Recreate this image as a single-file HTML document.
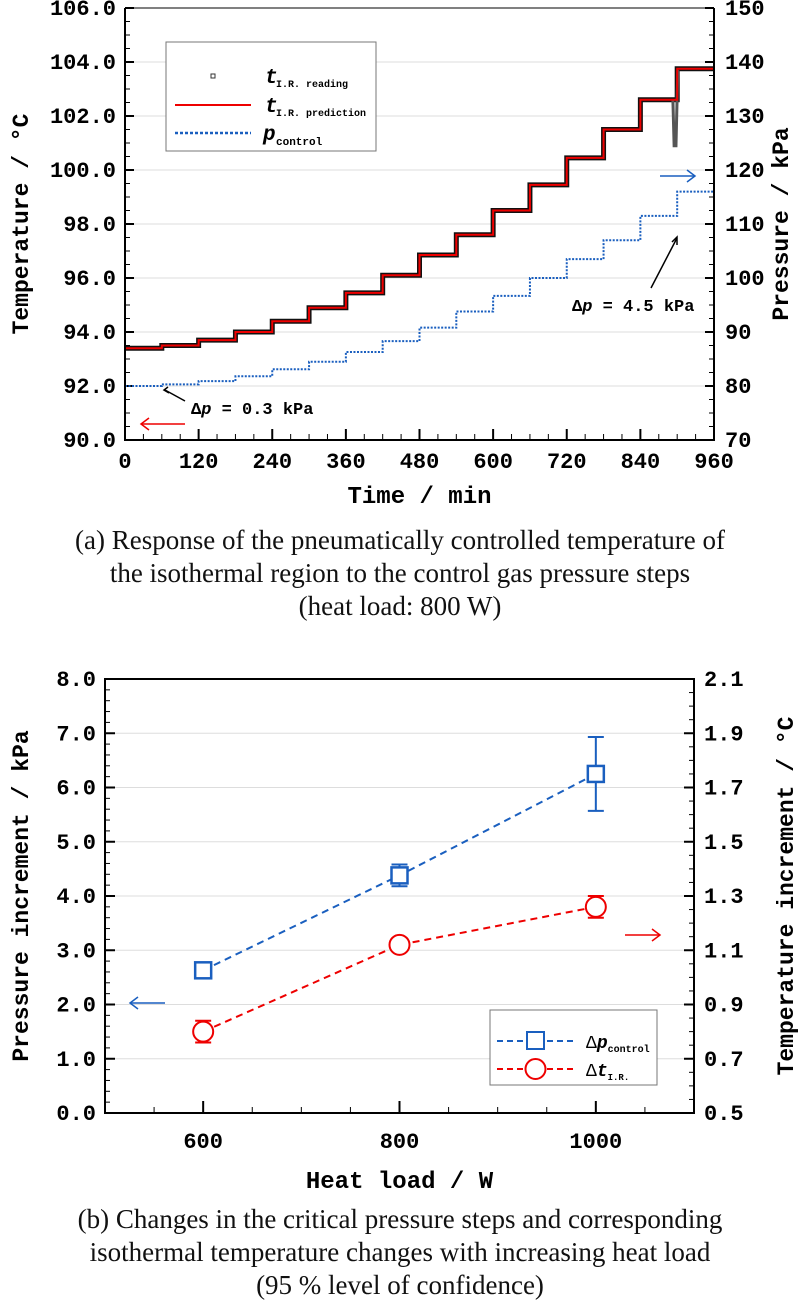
<!DOCTYPE html>
<html><head><meta charset="utf-8"><style>
html,body{margin:0;padding:0;background:#fff;}
body{width:800px;height:1309px;overflow:hidden;position:relative;}
.cap{position:absolute;left:0;width:800px;text-align:center;font-family:"Liberation Serif",serif;font-size:27px;line-height:33px;color:#111;}
svg text{font-family:"Liberation Mono",monospace;}
</style></head><body>
<svg id="s" width="800" height="1309" xmlns="http://www.w3.org/2000/svg"></svg>
<div class="cap" style="top:524px">(a) Response of the pneumatically controlled temperature of<br>the isothermal region to the control gas pressure steps<br>(heat load: 800 W)</div>
<div class="cap" style="top:1203px">(b) Changes in the critical pressure steps and corresponding<br>isothermal temperature changes with increasing heat load<br>(95 % level of confidence)</div>
<script>
let o='';
const FS=22;
const L=125,R=714,T=8,B=440;
const X=t=>L+t*(R-L)/960, YT=v=>T+(106-v)*27, YP=p=>T+(150-p)*5.4;
for(let v=92;v<=104;v+=2)o+=`<line x1="${L}" x2="${R}" y1="${YT(v)}" y2="${YT(v)}" stroke="#ddd" stroke-width="1"/>`;
for(let v=90;v<=106;v+=0.5){let y=YT(v),maj=Math.abs(v%2)<1e-6;o+=`<line x1="${L}" x2="${L+(maj?9:5)}" y1="${y}" y2="${y}" stroke="#000" stroke-width="${maj?2:1}"/>`;}
for(let p=70;p<=150;p+=2.5){let y=YP(p),maj=Math.abs(p%10)<1e-6;o+=`<line x1="${R}" x2="${R-(maj?9:5)}" y1="${y}" y2="${y}" stroke="#000" stroke-width="${maj?2:1}"/>`;}
for(let t=0;t<=960;t+=30){let x=X(t),maj=t%120==0;o+=`<line x1="${x}" x2="${x}" y1="${B}" y2="${B-(maj?11:6)}" stroke="#000" stroke-width="${maj?2:1}"/>`;}
for(let v=90;v<=106;v+=2)o+=`<text x="${L-9}" y="${YT(v)+7}" font-size="${FS}" font-weight="bold" text-anchor="end">${v.toFixed(1)}</text>`;
for(let p=70;p<=150;p+=10)o+=`<text x="${R+11}" y="${YP(p)+7}" font-size="${FS}" font-weight="bold">${p}</text>`;
for(let t=0;t<=960;t+=120)o+=`<text x="${X(t)}" y="${B+28}" font-size="${FS}" font-weight="bold" text-anchor="middle">${t}</text>`;
o+=`<text x="${(L+R)/2}" y="503" font-size="24" font-weight="bold" text-anchor="middle">Time / min</text>`;
o+=`<text transform="translate(28,224) rotate(-90)" font-size="23" font-weight="bold" text-anchor="middle">Temperature / °C</text>`;
o+=`<text transform="translate(788,224) rotate(-90)" font-size="23" font-weight="bold" text-anchor="middle">Pressure / kPa</text>`;
const tl=[93.4,93.5,93.7,94.0,94.4,94.9,95.45,96.1,96.85,97.6,98.5,99.45,100.45,101.5,102.6,103.75];
const pl=[80.0,80.3,80.9,81.8,83.1,84.5,86.3,88.3,90.8,93.8,96.7,100,103.5,107,111.5,116];
let d='M'+X(0)+' '+YT(tl[0]),dp='M'+X(0)+' '+YP(pl[0]);
for(let i=0;i<16;i++){let t0=i*60;d+=` L${X(t0)} ${YT(tl[i])} L${X(t0+60)} ${YT(tl[i])}`;dp+=` L${X(t0)} ${YP(pl[i])} L${X(t0+60)} ${YP(pl[i])}`;}
o+=`<path d="${d}" fill="none" stroke="#111" stroke-width="5"/>`;
o+=`<path d="M${X(893)} ${YT(102.6)} L${X(895)} ${YT(100.9)} L${X(898)} ${YT(100.9)} L${X(901)} ${YT(103.7)}" fill="none" stroke="#555" stroke-width="3"/>`;
o+=`<path d="${d}" fill="none" stroke="#e00" stroke-width="2"/>`;
o+=`<path d="${dp}" fill="none" stroke="#1a5fbf" stroke-width="2" stroke-dasharray="2,1.5"/>`;
o+=`<rect x="166" y="42" width="210" height="109" fill="#fff" stroke="#777" stroke-width="1"/>`;
o+=`<rect x="211" y="74" width="4" height="4" fill="none" stroke="#333"/>`;
o+=`<line x1="175" x2="251" y1="105" y2="105" stroke="#e00" stroke-width="2"/>`;
o+=`<line x1="175" x2="251" y1="133" y2="133" stroke="#1a5fbf" stroke-width="2.5" stroke-dasharray="3,2"/>`;
o+=`<text x="265" y="83" font-size="21" font-weight="bold" font-style="italic">t</text><text x="276" y="87" font-size="10" font-weight="bold">I.R. reading</text>`;
o+=`<text x="265" y="112" font-size="21" font-weight="bold" font-style="italic">t</text><text x="276" y="116" font-size="10" font-weight="bold">I.R. prediction</text>`;
o+=`<text x="263" y="140" font-size="21" font-weight="bold" font-style="italic">p</text><text x="276" y="145" font-size="11" font-weight="bold">control</text>`;
o+=`<line x1="185" x2="141" y1="424" y2="424" stroke="#e00" stroke-width="1.5"/><path d="M149 418 L141 424 L149 430" fill="none" stroke="#e00" stroke-width="1.5"/>`;
o+=`<line x1="660" x2="695" y1="176" y2="176" stroke="#1a5fbf" stroke-width="1.5"/><path d="M687 170 L695 176 L687 182" fill="none" stroke="#1a5fbf" stroke-width="1.5"/>`;
o+=`<line x1="185" x2="165" y1="401" y2="390" stroke="#000" stroke-width="1.5"/><path d="M168 387 L164 390 L169 393" fill="none" stroke="#000" stroke-width="1.5"/>`;
o+=`<text x="191" y="414" font-size="17" font-weight="bold">Δ<tspan font-style="italic">p</tspan> = 0.3 kPa</text>`;
o+=`<line x1="651" x2="677" y1="288" y2="238" stroke="#000" stroke-width="1.5"/><path d="M672 242 L677 237 L677 245" fill="none" stroke="#000" stroke-width="1.5"/>`;
o+=`<text x="572" y="311" font-size="17" font-weight="bold">Δ<tspan font-style="italic">p</tspan> = 4.5 kPa</text>`;
o+=`<path d="M${L} ${T} L${L} ${B} L${R} ${B} L${R} ${T}" fill="none" stroke="#000" stroke-width="2"/>`;
o+=`<line x1="${L}" x2="${R}" y1="${T}" y2="${T}" stroke="#000" stroke-width="1"/>`;

const L2=105,R2=694,T2=679,B2=1113;
const X2=w=>L2+(w-500)*(R2-L2)/600, Y2=v=>T2+(8-v)*54.25;
for(let v=1;v<=7;v++)o+=`<line x1="${L2}" x2="${R2}" y1="${Y2(v)}" y2="${Y2(v)}" stroke="#ddd"/>`;
for(let k=0;k<=40;k++){let v=k*0.2,y=Y2(v),maj=k%5==0;o+=`<line x1="${L2}" x2="${L2+(maj?10:5)}" y1="${y}" y2="${y}" stroke="#000" stroke-width="${maj?2:1}"/>`;}
for(let k=0;k<=32;k++){let y=T2+k*434/32,maj=k%4==0;o+=`<line x1="${R2}" x2="${R2-(maj?10:5)}" y1="${y}" y2="${y}" stroke="#000" stroke-width="${maj?2:1}"/>`;}
for(let w=500;w<=1100;w+=50){let x=X2(w),maj=w%200==0;o+=`<line x1="${x}" x2="${x}" y1="${B2}" y2="${B2-(maj?12:6)}" stroke="#000" stroke-width="${maj?2:1}"/>`;}
for(let v=0;v<=8;v++)o+=`<text x="${L2-9}" y="${Y2(v)+7}" font-size="${FS}" font-weight="bold" text-anchor="end">${v.toFixed(1)}</text>`;
for(let k=0;k<=8;k++)o+=`<text x="${R2+10}" y="${T2+k*434/8+7}" font-size="${FS}" font-weight="bold">${(2.1-k*0.2).toFixed(1)}</text>`;
for(let w of [600,800,1000])o+=`<text x="${X2(w)}" y="${B2+35}" font-size="${FS}" font-weight="bold" text-anchor="middle">${w}</text>`;
o+=`<text x="${(L2+R2)/2}" y="1188" font-size="24" font-weight="bold" text-anchor="middle">Heat load / W</text>`;
o+=`<text transform="translate(28,896) rotate(-90)" font-size="23" font-weight="bold" text-anchor="middle">Pressure increment / kPa</text>`;
o+=`<text transform="translate(793,896) rotate(-90)" font-size="23" font-weight="bold" text-anchor="middle">Temperature increment / °C</text>`;
const bl=[[600,2.63,0.1],[800,4.38,0.2],[1000,6.25,0.68]], rd=[[600,1.5,0.2],[800,3.1,0.05],[1000,3.8,0.2]];
o+=`<polyline points="${bl.map(p=>X2(p[0])+','+Y2(p[1])).join(' ')}" fill="none" stroke="#1a5fbf" stroke-width="2" stroke-dasharray="7,5"/>`;
o+=`<polyline points="${rd.map(p=>X2(p[0])+','+Y2(p[1])).join(' ')}" fill="none" stroke="#e00" stroke-width="2" stroke-dasharray="7,5"/>`;
for(const [w,v,e] of bl){let x=X2(w),y=Y2(v);o+=`<path d="M${x} ${Y2(v+e)} V${Y2(v-e)} M${x-8} ${Y2(v+e)} H${x+8} M${x-8} ${Y2(v-e)} H${x+8}" stroke="#1a5fbf" stroke-width="2"/><rect x="${x-8}" y="${y-8}" width="16" height="16" fill="#fff" stroke="#1a5fbf" stroke-width="2.5"/>`;}
for(const [w,v,e] of rd){let x=X2(w),y=Y2(v);o+=`<path d="M${x} ${Y2(v+e)} V${Y2(v-e)} M${x-8} ${Y2(v+e)} H${x+8} M${x-8} ${Y2(v-e)} H${x+8}" stroke="#e00" stroke-width="2"/><circle cx="${x}" cy="${y}" r="10" fill="#fff" stroke="#e00" stroke-width="2"/>`;}
o+=`<line x1="165" x2="130" y1="1003" y2="1003" stroke="#1a5fbf" stroke-width="1.5"/><path d="M138 997 L130 1003 L138 1009" fill="none" stroke="#1a5fbf" stroke-width="1.5"/>`;
o+=`<line x1="625" x2="660" y1="935" y2="935" stroke="#e00" stroke-width="1.5"/><path d="M652 929 L660 935 L652 941" fill="none" stroke="#e00" stroke-width="1.5"/>`;
o+=`<rect x="490" y="1010" width="167" height="75" fill="#fff" stroke="#777"/>`;
o+=`<line x1="497" x2="575" y1="1041" y2="1041" stroke="#1a5fbf" stroke-width="2" stroke-dasharray="6,4"/><rect x="527" y="1032" width="17" height="17" fill="#fff" stroke="#1a5fbf" stroke-width="2"/>`;
o+=`<line x1="497" x2="575" y1="1069" y2="1069" stroke="#e00" stroke-width="2" stroke-dasharray="6,4"/><circle cx="535.5" cy="1069" r="10" fill="#fff" stroke="#e00" stroke-width="2"/>`;
o+=`<text x="586" y="1048" font-size="18">Δ<tspan font-style="italic" font-weight="bold">p</tspan><tspan font-size="10" font-weight="bold" dy="4">control</tspan></text>`;
o+=`<text x="586" y="1076" font-size="18">Δ<tspan font-style="italic" font-weight="bold">t</tspan><tspan font-size="9" font-weight="bold" dy="4">I.R.</tspan></text>`;
o+=`<path d="M${L2} ${T2} L${L2} ${B2} L${R2} ${B2} L${R2} ${T2} Z" fill="none" stroke="#000" stroke-width="2"/>`;
document.getElementById('s').innerHTML=o;
</script>
</body></html>
